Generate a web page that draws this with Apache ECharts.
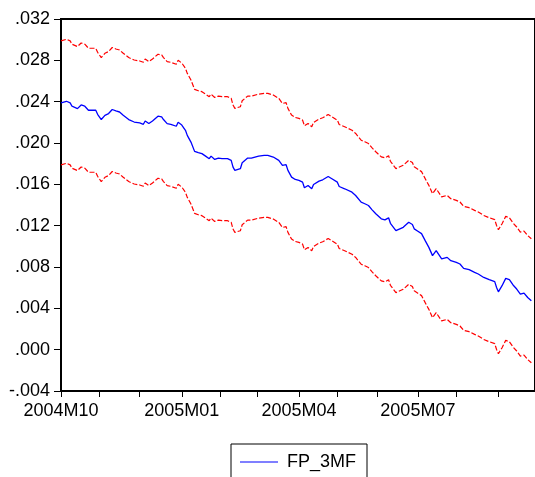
<!DOCTYPE html>
<html>
<head>
<meta charset="utf-8">
<script src="https://cdn.jsdelivr.net/npm/echarts@6/dist/echarts.min.js"></script>
<style>
  html, body { margin: 0; padding: 0; background: #fff; }
  #chart { width: 535px; height: 477px; }
</style>
</head>
<body>
<div id="chart"></div>
<script>
// observation numbers (5-day business days from 2004-10-01) of the read points
const obs = [
  0, 3, 5, 6, 9, 11, 13, 15, 16, 19,
  20, 22, 24, 26, 28, 30, 32, 34, 35, 37,
  40, 43, 45, 46, 48, 50, 53, 55, 56, 58,
  60, 63, 64, 66, 68, 69, 71, 73, 75, 77,
  79, 81, 82, 84, 86, 88, 91, 93, 94, 95,
  98, 99, 102, 104, 105, 108, 111, 113, 116, 119,
  121, 123, 124, 126, 128, 130, 132, 133, 135, 137,
  138, 141, 143, 146, 148, 151, 152, 155, 159, 161,
  164, 166, 168, 170, 172, 175, 177, 179, 180, 183,
  184, 187, 190, 192, 193, 195, 197, 199, 201, 203,
  205, 206, 208, 211, 213, 216, 218, 220, 223, 226,
  228, 231, 234, 237, 238, 239, 241, 243, 245, 247,
  249, 251, 253, 255, 257
]

// forecast FP_3MF
const fp3mf = [
  .02388, .02404, .02388, .02356, .02333, .02368, .02356, .02317, .02324, .02317,
  .02278, .02227, .02268, .02285, .02324, .02310, .02300, .02268, .02259, .02227,
  .02203, .02194, .02181, .02213, .02188, .02213, .02259, .02252, .02227, .02188,
  .02181, .02162, .02200, .02174, .02123, .02074, .02009, .01919, .01906, .01897,
  .01873, .01848, .01873, .01841, .01854, .01848, .01848, .01832, .01767, .01735,
  .01751, .01809, .01854, .01854, .01864, .01873, .01880, .01880, .01864, .01832,
  .01783, .01790, .01735, .01670, .01647, .01638, .01621, .01567, .01589, .01557,
  .01599, .01631, .01644, .01676, .01654, .01621, .01579, .01557, .01524, .01492,
  .01427, .01412, .01395, .01353, .01315, .01266, .01256, .01276, .01223, .01152,
  .01159, .01184, .01233, .01211, .01169, .01146, .01123, .01055, .00990, .00910,
  .00958, .00968, .00878, .00893, .00861, .00845, .00829, .00787, .00774, .00748,
  .00732, .00699, .00677, .00658, .00602, .00560, .00619, .00690, .00677, .00626,
  .00587, .00538, .00548, .00505, .00473
]

// upper band (+2 S.E.)
const upper = [
  .02988, .03004, .02988, .02956, .02933, .02968, .02956, .02917, .02924, .02917,
  .02878, .02827, .02868, .02885, .02924, .02910, .02900, .02868, .02859, .02827,
  .02803, .02794, .02781, .02813, .02788, .02813, .02859, .02852, .02827, .02788,
  .02781, .02762, .02800, .02774, .02723, .02674, .02609, .02519, .02506, .02497,
  .02473, .02448, .02473, .02441, .02454, .02448, .02448, .02432, .02367, .02335,
  .02351, .02409, .02454, .02454, .02464, .02473, .02480, .02480, .02464, .02432,
  .02383, .02390, .02335, .02270, .02247, .02238, .02221, .02167, .02189, .02157,
  .02199, .02231, .02244, .02276, .02254, .02221, .02179, .02157, .02124, .02092,
  .02027, .02012, .01995, .01953, .01915, .01866, .01856, .01876, .01823, .01752,
  .01759, .01784, .01833, .01811, .01769, .01746, .01723, .01655, .01590, .01510,
  .01558, .01568, .01478, .01493, .01461, .01445, .01429, .01387, .01374, .01348,
  .01332, .01299, .01277, .01258, .01202, .01160, .01219, .01290, .01277, .01226,
  .01187, .01138, .01148, .01105, .01073
]

// lower band (-2 S.E.)
const lower = [
  .01788, .01804, .01788, .01756, .01733, .01768, .01756, .01717, .01724, .01717,
  .01678, .01627, .01668, .01685, .01724, .01710, .01700, .01668, .01659, .01627,
  .01603, .01594, .01581, .01613, .01588, .01613, .01659, .01652, .01627, .01588,
  .01581, .01562, .01600, .01574, .01523, .01474, .01409, .01319, .01306, .01297,
  .01273, .01248, .01273, .01241, .01254, .01248, .01248, .01232, .01167, .01135,
  .01151, .01209, .01254, .01254, .01264, .01273, .01280, .01280, .01264, .01232,
  .01183, .01190, .01135, .01070, .01047, .01038, .01021, .00967, .00989, .00957,
  .00999, .01031, .01044, .01076, .01054, .01021, .00979, .00957, .00924, .00892,
  .00827, .00812, .00795, .00753, .00715, .00666, .00656, .00676, .00623, .00552,
  .00559, .00584, .00633, .00611, .00569, .00546, .00523, .00455, .00390, .00310,
  .00358, .00368, .00278, .00293, .00261, .00245, .00229, .00187, .00174, .00148,
  .00132, .00099, .00077, .00058, .00002, -.00040, .00019, .00090, .00077, .00026,
  -.00013, -.00062, -.00052, -.00095, -.00127
]

// months that get a label on the date axis
const labelMonths = ["2004M10", "2005M01", "2005M04", "2005M07"]

// business-day calendar for the category axis
const days = []
const monthStart = []
let d = new Date(2004, 9, 1)
let lastMonth = -1
while (days.length < 260) {
  const wd = d.getDay()
  if (wd !== 0 && wd !== 6) {
    const m = d.getMonth() + 1
    days.push(d.getFullYear() + "M" + (m < 10 ? "0" + m : m))
    monthStart.push(m !== lastMonth)
    lastMonth = m
  }
  d.setDate(d.getDate() + 1)
}

const pairs = arr => obs.map((o, i) => [o, arr[i]])

const font = "Liberation Sans, Arial, sans-serif"
const chart = echarts.init(document.getElementById("chart"))

chart.setOption({
  animation: false,
  grid: {
    left: 61,
    top: 19,
    width: 477,
    height: 372,
    show: true,
    borderColor: "#000",
    borderWidth: 2
  },
  legend: {
    data: [{ name: "FP_3MF", icon: "rect" }],
    left: 231,
    top: 444,
    orient: "horizontal",
    borderColor: "#000",
    borderWidth: 1,
    borderRadius: 0,
    padding: [9, 11, 30, 9],
    itemWidth: 38,
    itemHeight: 1,
    itemStyle: { color: "#0000ff" },
    textStyle: { fontFamily: font, fontSize: 18, color: "#000", padding: [0, 0, 0, 4] }
  },
  xAxis: {
    type: "category",
    data: days,
    boundaryGap: false,
    axisLine: { onZero: false, lineStyle: { color: "#000", width: 2 } },
    axisTick: {
      length: 6,
      lineStyle: { color: "#000", width: 1 },
      interval: idx => monthStart[idx]
    },
    axisLabel: {
      margin: 11,
      fontFamily: font,
      fontSize: 18,
      color: "#000",
      interval: idx => monthStart[idx] && labelMonths.includes(days[idx])
    },
    splitLine: { show: false }
  },
  yAxis: {
    type: "value",
    min: -0.004,
    max: 0.032,
    interval: 0.004,
    axisLine: { show: true, lineStyle: { color: "#000", width: 2 } },
    axisTick: { show: true, length: 7, lineStyle: { color: "#000", width: 1 } },
    axisLabel: {
      margin: 11,
      fontFamily: font,
      fontSize: 18,
      color: "#000",
      formatter: v => v.toFixed(3).replace("0.", ".")
    },
    splitLine: { show: false }
  },
  series: [
    {
      name: "FP_3MF",
      type: "line",
      data: pairs(fp3mf),
      symbol: "none",
      lineStyle: { color: "#0000ff", width: 1.3 },
      itemStyle: { color: "#0000ff" }
    },
    {
      name: "upper",
      type: "line",
      data: pairs(upper),
      symbol: "none",
      lineStyle: { color: "#ff0000", width: 1.2, type: [5, 2] }
    },
    {
      name: "lower",
      type: "line",
      data: pairs(lower),
      symbol: "none",
      lineStyle: { color: "#ff0000", width: 1.2, type: [5, 2] }
    }
  ]
})
</script>
</body>
</html>
